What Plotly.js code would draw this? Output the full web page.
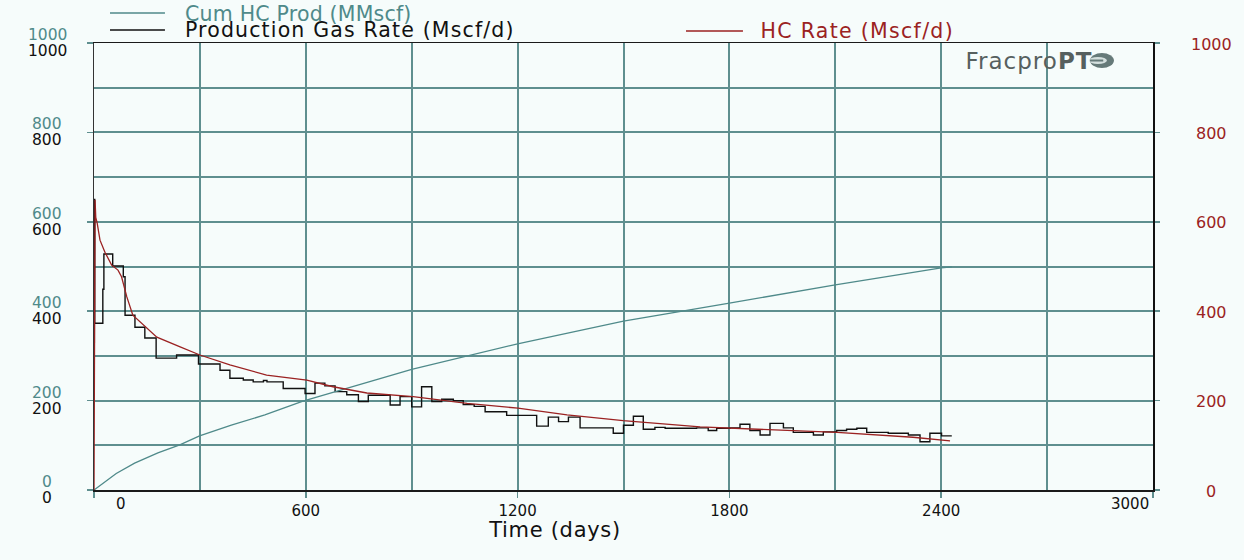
<!DOCTYPE html>
<html>
<head>
<meta charset="utf-8">
<script src="https://cdn.plot.ly/plotly-3.0.1.min.js"></script>
<style>
html,body{margin:0;padding:0;background:#f6fcfb;}
#chart{width:1244px;height:560px;}
g.annotation[data-index="0"] text{letter-spacing:0.2px;}
g.annotation[data-index="1"] text{letter-spacing:1.15px;}
g.annotation[data-index="2"] text{letter-spacing:1.3px;}
g.annotation[data-index="3"] text{letter-spacing:1px;}
g.annotation[data-index="4"] text{letter-spacing:0.7px;}
</style>
</head>
<body>
<div id="chart"></div>
<script>
// Cumulative hydrocarbon production (MMscf)
const cumDays = [0, 63, 115, 181, 243, 299, 389, 484, 592, 900, 1200, 1386, 1500, 1800, 2100, 2400, 2430];
const cumProd = [0, 37, 60, 83, 101, 121, 145, 168, 199, 270, 327, 358, 378, 418, 459, 497, 499];

// Production gas rate (Mscf/d), step data (start day of each step)
const prodDays = [0, 1, 2, 25, 28, 53, 83, 88, 116, 144, 176, 234, 296, 357, 385, 423, 451, 480, 490, 536, 598, 626, 654, 683, 716, 749, 777, 839, 867, 900, 928, 957, 985, 1018, 1046, 1077, 1108, 1169, 1254, 1287, 1316, 1344, 1377, 1471, 1500, 1528, 1556, 1589, 1618, 1707, 1740, 1764, 1802, 1830, 1858, 1887, 1915, 1953, 1981, 2038, 2066, 2104, 2132, 2161, 2189, 2250, 2307, 2340, 2368, 2401, 2430];
const prodRate = [330, 650, 373, 449, 528, 501, 477, 391, 364, 340, 295, 302, 282, 268, 250, 246, 242, 245, 242, 227, 216, 239, 233, 220, 213, 198, 212, 190, 209, 186, 231, 198, 203, 200, 191, 187, 175, 167, 143, 163, 153, 163, 139, 127, 145, 165, 136, 140, 138, 139, 133, 138, 139, 147, 133, 123, 149, 139, 129, 123, 130, 133, 136, 138, 129, 127, 123, 108, 127, 121, 121];

// Hydrocarbon rate (Mscf/d)
const hcDays = [0, 1, 3, 5, 9, 17, 31, 50, 68, 78, 93, 110, 178, 244, 300, 385, 489, 603, 677, 773, 904, 1057, 1201, 1340, 1499, 1717, 1802, 2105, 2320, 2425];
const hcRate = [0, 330, 649, 610, 597, 559, 532, 503, 492, 477, 432, 391, 342, 320, 302, 280, 257, 246, 231, 217, 209, 194, 183, 168, 155, 141, 138, 129, 118, 110];

// Series names and axis ticks
const seriesNames = ['Cum HC Prod (MMscf)', 'Production Gas Rate (Mscf/d)', 'HC Rate (Mscf/d)'];
const xTitle = 'Time (days)';
const xTickVals = [0, 600, 1200, 1800, 2400, 3000];
const xTickText = ['', '600', '1200', '1800', '2400', ''];
const yTickVals = [0, 200, 400, 600, 800, 1000];

const FONT = 'DejaVu Sans, Arial, sans-serif';
const TEAL = '#4f8a8a';
const RED = '#9b2222';
const BLACK = '#111111';
const GRID = '#5f8f8f';
const BG = '#f6fcfb';
const COLORS = [TEAL, BLACK, RED];

const traces = [
  {x: cumDays, y: cumProd, name: seriesNames[0], type: 'scatter', mode: 'lines',
   line: {color: TEAL, width: 1.3}, yaxis: 'y2'},
  {x: prodDays, y: prodRate, name: seriesNames[1], type: 'scatter', mode: 'lines',
   line: {color: BLACK, width: 1.4, shape: 'hv'}, yaxis: 'y'},
  {x: hcDays, y: hcRate, name: seriesNames[2], type: 'scatter', mode: 'lines',
   line: {color: RED, width: 1.3}, yaxis: 'y3'}
];

// legend entries drawn as line samples + text, placed in paper units
const legPos = [
  {lx0: 0.0151, lx1: 0.067, ly: 1.0671, tx: 0.0855, ty: 1.0649},
  {lx0: 0.0151, lx1: 0.067, ly: 1.0291, tx: 0.0996, ty: 1.0291},
  {lx0: 0.559, lx1: 0.6128, ly: 1.0268, tx: 0.6378, ty: 1.0268}
];
const legShapes = legPos.map((p, i) => ({type: 'line', xref: 'paper', yref: 'paper',
  x0: p.lx0, x1: p.lx1, y0: p.ly, y1: p.ly, line: {color: COLORS[i], width: 1.4}}));
const legAnn = legPos.map((p, i) => ({xref: 'paper', yref: 'paper', x: p.tx, y: p.ty,
  xanchor: 'left', yanchor: 'middle', showarrow: false, text: seriesNames[i],
  font: {family: FONT, size: 20.5, color: COLORS[i]}}));

// centred y tick labels for the three value axes
const tickAnn = [];
yTickVals.forEach(v => {
  tickAnn.push({xref: 'paper', yref: 'y', x: 0, y: v, xshift: -47, yshift: 8,
    xanchor: 'center', yanchor: 'middle', showarrow: false, text: String(v),
    font: {family: FONT, size: 15.5, color: TEAL}});
  tickAnn.push({xref: 'paper', yref: 'y', x: 0, y: v, xshift: -47, yshift: -8,
    xanchor: 'center', yanchor: 'middle', showarrow: false, text: String(v),
    font: {family: FONT, size: 15.5, color: BLACK}});
  tickAnn.push({xref: 'paper', yref: 'y', x: 1, y: v, xshift: 58, yshift: -1,
    xanchor: 'center', yanchor: 'middle', showarrow: false, text: String(v),
    font: {family: FONT, size: 16, color: RED}});
});

const layout = {
  width: 1244, height: 560,
  paper_bgcolor: BG, plot_bgcolor: BG,
  margin: {l: 94, r: 91, t: 43, b: 70, autoexpand: false},
  showlegend: false,
  xaxis: {
    range: [0, 3000], tickvals: xTickVals, ticktext: xTickText,
    showgrid: true, gridcolor: GRID, gridwidth: 2,
    minor: {dtick: 300, tick0: 0, showgrid: true, gridcolor: GRID, gridwidth: 2, ticks: ''},
    ticks: 'outside', ticklen: 6, tickcolor: GRID, tickwidth: 1.5,
    showline: true, linecolor: '#1a1a1a', linewidth: 1.5, mirror: true,
    zeroline: false,
    tickfont: {family: FONT, size: 15, color: BLACK}
  },
  yaxis: {
    range: [0, 1000], tickvals: yTickVals, showticklabels: false,
    showgrid: true, gridcolor: GRID, gridwidth: 2,
    minor: {dtick: 100, tick0: 0, showgrid: true, gridcolor: GRID, gridwidth: 2, ticks: ''},
    ticks: 'outside', ticklen: 6, tickcolor: GRID, tickwidth: 1.5,
    showline: true, linecolor: '#333333', linewidth: 1.5, mirror: true,
    zeroline: false
  },
  yaxis2: {
    range: [0, 1000], tickvals: yTickVals, overlaying: 'y', side: 'left', anchor: 'x',
    showgrid: false, zeroline: false, showline: false, ticks: '', showticklabels: false
  },
  yaxis3: {
    range: [0, 1000], tickvals: yTickVals, overlaying: 'y', side: 'right', anchor: 'x',
    showgrid: false, zeroline: false, showline: true, linecolor: BLACK, linewidth: 1.5,
    ticks: 'outside', ticklen: 5, tickcolor: GRID, tickwidth: 1.5, showticklabels: false
  },
  annotations: legAnn.concat([
    {xref: 'paper', yref: 'paper', x: 0.8253, y: 0.9597, xanchor: 'left', yanchor: 'middle',
     text: 'Fracpro<b>PT</b>', showarrow: false, font: {family: FONT, size: 23, color: '#56605f'}},
    {xref: 'paper', yref: 'paper', x: 0.4353, y: 0, yshift: -40, xanchor: 'center', yanchor: 'middle',
     text: xTitle, showarrow: false, font: {family: FONT, size: 21, color: BLACK}},
    {xref: 'x', yref: 'paper', x: 0, y: 0, xshift: 27, yshift: -14, yanchor: 'middle', xanchor: 'center',
     text: '0', showarrow: false, font: {family: FONT, size: 15, color: BLACK}},
    {xref: 'x', yref: 'paper', x: 3000, y: 0, xshift: -2, yshift: -14, yanchor: 'middle', xanchor: 'right',
     text: '3000', showarrow: false, font: {family: FONT, size: 15, color: BLACK}}
  ]).concat(tickAnn),
  shapes: legShapes.concat([
    {type: 'circle', xref: 'paper', yref: 'paper', x0: 0.9405, x1: 0.9631, y0: 0.9441, y1: 0.9776,
     fillcolor: '#667a79', line: {width: 0}},
    {type: 'circle', xref: 'paper', yref: 'paper', x0: 0.9394, x1: 0.9565, y0: 0.953, y1: 0.9687,
     fillcolor: '#d5e0df', line: {width: 0}},
    {type: 'line', xref: 'paper', yref: 'paper', x0: 0.9405, x1: 0.953, y0: 0.9608, y1: 0.9608,
     line: {color: '#667a79', width: 2}}
  ])
};

Plotly.newPlot('chart', traces, layout, {displayModeBar: false, staticPlot: true});
</script>
</body>
</html>
